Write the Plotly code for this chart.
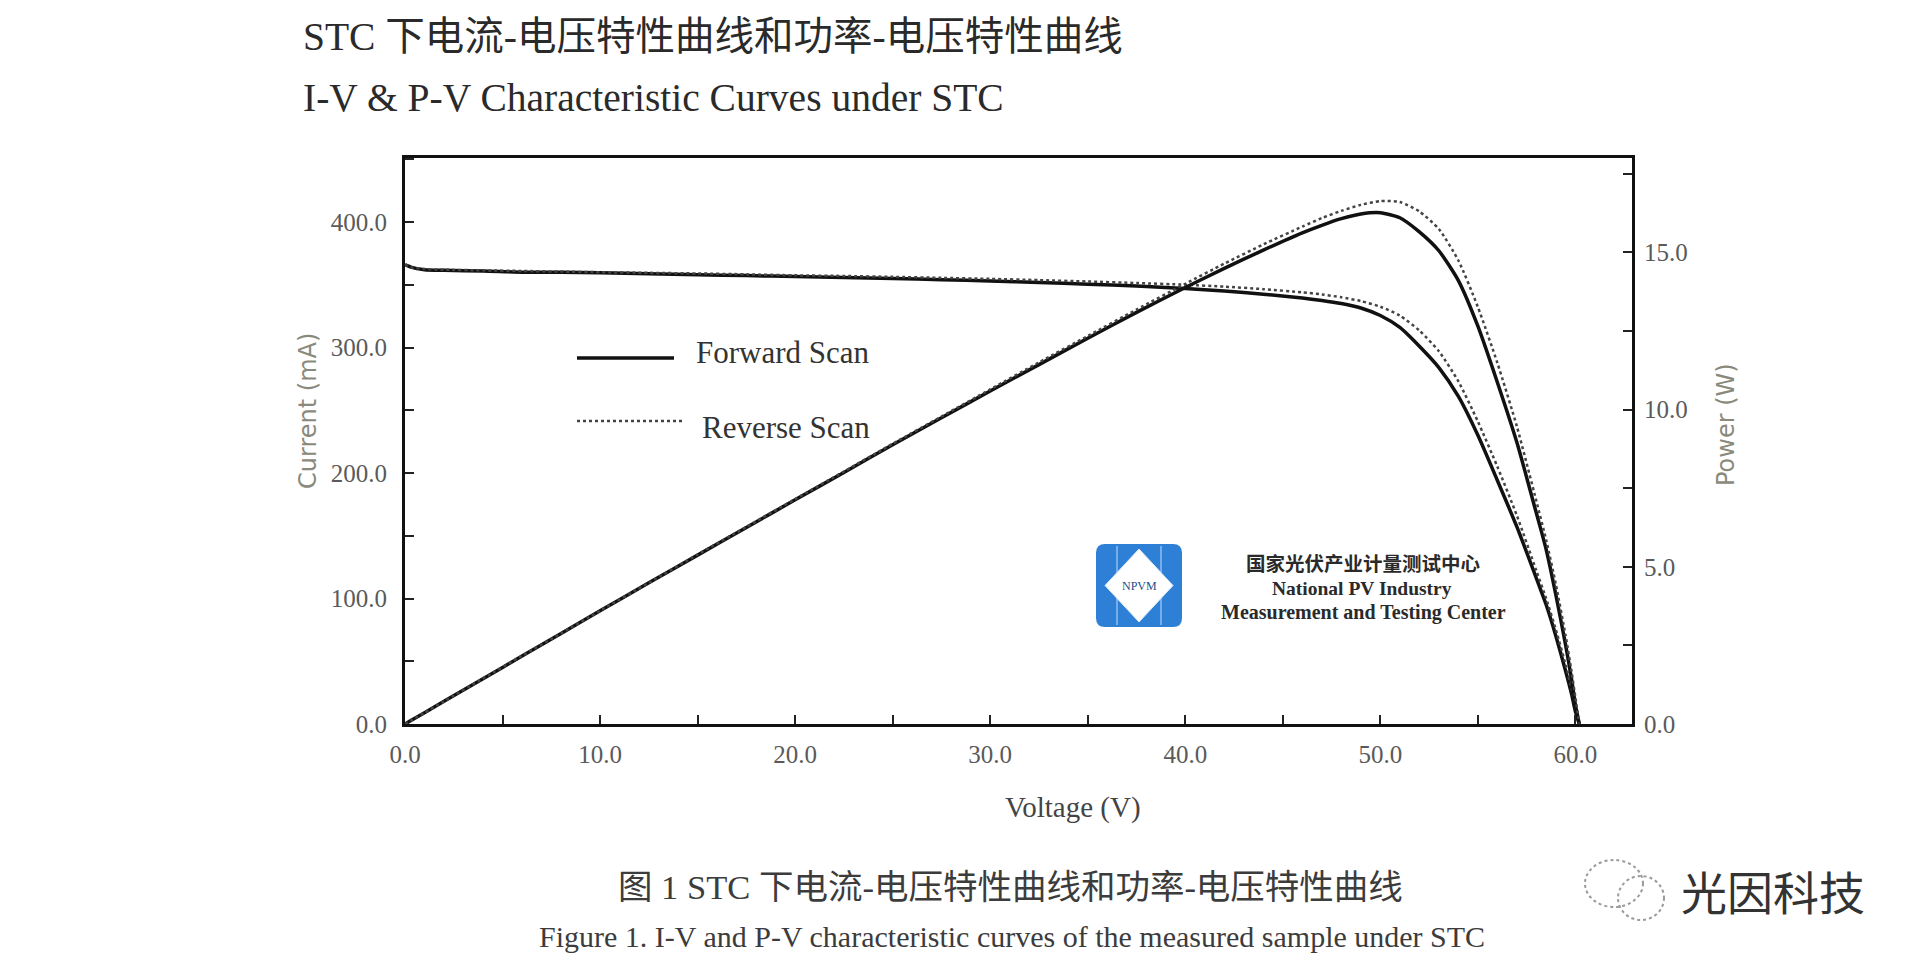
import plotly.graph_objects as go

# ---------------- data ----------------
voltage = [0, 0.3, 1, 2, 4, 6, 8, 10, 12.5, 15, 17.5, 20, 22.5, 25, 27.5, 30,
           32.5, 35, 37.5, 40, 42, 44, 46, 47, 48, 49, 50, 51, 52, 53, 54, 55,
           56, 57, 58, 58.5, 59, 59.5, 59.8, 60.0, 60.2]

current_forward = [366, 364, 362, 361.5, 361, 360, 360, 359.5, 358.8, 358, 357.3,
                   356.5, 355.8, 355, 354, 353, 351.8, 350.5, 349, 347, 345, 342.5,
                   339.5, 337.5, 335, 331.5, 325.5, 316, 301, 284, 261, 230, 194,
                   157, 116, 95, 70, 42, 24, 10, 0]

current_reverse = [366, 364, 362.5, 362, 361.5, 361, 360.5, 360, 359.5, 359, 358.3,
                   357.5, 357, 356.3, 355.5, 354.7, 353.7, 352.6, 351.4, 350, 348.5,
                   346.5, 344, 342.3, 340, 337, 332.5, 325.5, 313.5, 297, 273,
                   241, 205, 166, 122, 100, 75, 47, 28, 14, 0]

power_forward = [0, 0.11, 0.36, 0.72, 1.44, 2.16, 2.88, 3.6, 4.49, 5.37, 6.25, 7.13,
                 8.0, 8.88, 9.74, 10.59, 11.43, 12.27, 13.09, 13.88, 14.49, 15.07,
                 15.62, 15.86, 16.07, 16.22, 16.26, 16.1, 15.65, 15.05, 14.1, 12.65,
                 10.86, 8.95, 6.7, 5.55, 4.1, 2.5, 1.43, 0.6, 0]

power_reverse = [0, 0.11, 0.36, 0.72, 1.45, 2.17, 2.88, 3.6, 4.49, 5.39, 6.27, 7.15,
                 8.03, 8.91, 9.78, 10.64, 11.5, 12.34, 13.18, 14.0, 14.64, 15.25,
                 15.82, 16.09, 16.32, 16.51, 16.63, 16.6, 16.3, 15.74, 14.74, 13.26,
                 11.48, 9.46, 7.08, 5.85, 4.43, 2.8, 1.67, 0.84, 0]

x_ticks = [0, 10, 20, 30, 40, 50, 60]
current_ticks = [0, 100, 200, 300, 400]
power_ticks = [0, 5, 10, 15]

series_names = ["Forward Scan", "Reverse Scan"]

title_cn = "STC 下电流-电压特性曲线和功率-电压特性曲线"
title_en = "I-V & P-V Characteristic Curves under STC"
caption_cn = "图 1 STC 下电流-电压特性曲线和功率-电压特性曲线"
caption_en = "Figure 1. I-V and P-V characteristic curves of the measured sample under STC"
logo_lines = ["国家光伏产业计量测试中心", "National PV Industry", "Measurement and Testing Center"]
watermark = "光因科技"

# ---------------- layout helpers ----------------
# the page body has an 8px default margin, so the figure is sized to fit the window
OFF = 8
W, H = 1920 - OFF, 977 - OFF
L, R, T, B = 405 - OFF, 288, 158 - OFF, 253
PW, PH = W - L - R, H - T - B
PLOT_LEFT = OFF + L
PLOT_BOTTOM = OFF + H - B


def px(x):
    return (x - PLOT_LEFT) / PW


def py(y):
    return (PLOT_BOTTOM - y) / PH


SERIF = "Liberation Serif, 'Noto Sans CJK SC', serif"
SANS = "DejaVu Sans, sans-serif"
CJK = "'Noto Sans CJK SC', sans-serif"

fig = go.Figure()

fig.add_trace(go.Scatter(x=voltage, y=current_forward, mode="lines", yaxis="y",
                         line=dict(color="#111111", width=3.5, shape="spline", smoothing=0.6),
                         name=series_names[0], showlegend=False, hoverinfo="skip"))
fig.add_trace(go.Scatter(x=voltage, y=power_forward, mode="lines", yaxis="y2",
                         line=dict(color="#111111", width=3.5, shape="spline", smoothing=0.6),
                         name=series_names[0], showlegend=False, hoverinfo="skip"))
fig.add_trace(go.Scatter(x=voltage, y=current_reverse, mode="lines", yaxis="y",
                         line=dict(color="#444444", width=2.5, dash="dot", shape="spline", smoothing=0.6),
                         name=series_names[1], showlegend=False, hoverinfo="skip"))
fig.add_trace(go.Scatter(x=voltage, y=power_reverse, mode="lines", yaxis="y2",
                         line=dict(color="#444444", width=2.5, dash="dot", shape="spline", smoothing=0.6),
                         name=series_names[1], showlegend=False, hoverinfo="skip"))

tickfont = dict(family=SERIF, size=25, color="#5a5a5a")

axis_common = dict(
    showgrid=False, zeroline=False, showline=True, linecolor="#111111", linewidth=3,
    ticks="inside", ticklen=9, tickwidth=2, tickcolor="#222222",
    tickformat=".1f", tickfont=tickfont, automargin=False,
)

fig.update_layout(
    width=W, height=H,
    paper_bgcolor="white", plot_bgcolor="white",
    margin=dict(l=L, r=R, t=T, b=B),
    xaxis=dict(range=[0, 62.9], tickvals=x_ticks, mirror=True, ticklabelstandoff=6,
               minor=dict(dtick=5, tick0=0, ticks="inside", ticklen=9, tickwidth=2, tickcolor="#222222"),
               **axis_common),
    yaxis=dict(range=[0, 451], tickvals=current_ticks, mirror=True, ticklabelstandoff=10,
               minor=dict(dtick=50, tick0=0, ticks="inside", ticklen=9, tickwidth=2, tickcolor="#222222"),
               **axis_common),
    yaxis2=dict(range=[0, 18], tickvals=power_ticks, overlaying="y", side="right", ticklabelstandoff=4,
                minor=dict(dtick=2.5, tick0=0, ticks="inside", ticklen=9, tickwidth=2, tickcolor="#222222"),
                **axis_common),
    showlegend=False,
)

ann = []


def add_text(text, x, y, size, family=SERIF, color="#222222", xanchor="center", angle=0, bold=False):
    if bold:
        text = "<b>" + text + "</b>"
    ann.append(dict(text=text, x=px(x), y=py(y), xref="paper", yref="paper", showarrow=False,
                    xanchor=xanchor, yanchor="middle", textangle=angle,
                    font=dict(family=family, size=size, color=color)))


# titles
add_text(title_cn, 301, 37, 39.5, color="#2a2a2a", xanchor="left")
add_text(title_en, 301, 98, 39.5, color="#2a2a2a", xanchor="left")

# axis titles
add_text("Current (mA)", 308, 411, 24, family=SANS, color="#8a8a7c", angle=-90)
add_text("Power (W)", 1726, 425, 24, family=SANS, color="#8a8a7c", angle=-90)
add_text("Voltage (V)", 1073, 807, 29, color="#444444")

# legend text
add_text(series_names[0], 694, 352, 31, color="#333333", xanchor="left")
add_text(series_names[1], 700, 427, 31, color="#333333", xanchor="left")

# logo texts
add_text(logo_lines[0], 1363, 562, 19.5, family=CJK, color="#2a2a2a", bold=True)
add_text(logo_lines[1], 1362, 588, 19.5, color="#2a2a2a", bold=True)
add_text(logo_lines[2], 1363, 612, 20, color="#2a2a2a", bold=True)
add_text("NPVM", 1139, 586, 12, color="#1d4f8c")

# captions
add_text(caption_cn, 1010, 887, 34.5, color="#3c3c3c")
add_text(caption_en, 1012, 936, 30, color="#3c3c3c")

# watermark
add_text(watermark, 1773, 890, 46, family=CJK, color="#333333")

fig.update_layout(annotations=ann)

shapes = []
# legend samples
shapes.append(dict(type="line", xref="paper", yref="paper", x0=px(577), x1=px(674), y0=py(358), y1=py(358),
                   line=dict(color="#111111", width=3.5)))
shapes.append(dict(type="line", xref="paper", yref="paper", x0=px(577), x1=px(682), y0=py(421), y1=py(421),
                   line=dict(color="#444444", width=2.5, dash="dot")))

# logo: rounded blue square
lx0, lx1, ly0, ly1, rr = 1096, 1182, 544, 627, 9
rounded = (f"M {px(lx0 + rr)},{py(ly0)} L {px(lx1 - rr)},{py(ly0)} "
           f"Q {px(lx1)},{py(ly0)} {px(lx1)},{py(ly0 + rr)} L {px(lx1)},{py(ly1 - rr)} "
           f"Q {px(lx1)},{py(ly1)} {px(lx1 - rr)},{py(ly1)} L {px(lx0 + rr)},{py(ly1)} "
           f"Q {px(lx0)},{py(ly1)} {px(lx0)},{py(ly1 - rr)} L {px(lx0)},{py(ly0 + rr)} "
           f"Q {px(lx0)},{py(ly0)} {px(lx0 + rr)},{py(ly0)} Z")
shapes.append(dict(type="path", xref="paper", yref="paper", path=rounded,
                   fillcolor="#2e7fd6", line=dict(width=0)))
for bx in (1117, 1161):
    shapes.append(dict(type="line", xref="paper", yref="paper", x0=px(bx), x1=px(bx), y0=py(ly0 + 2), y1=py(ly1 - 2),
                       line=dict(color="#8fbdf0", width=1.5)))
cx, cy = (lx0 + lx1) / 2, (ly0 + ly1) / 2
diamond = (f"M {px(cx)},{py(ly0 + 5)} L {px(lx1 - 9)},{py(cy)} L {px(cx)},{py(ly1 - 5)} "
           f"L {px(lx0 + 9)},{py(cy)} Z")
shapes.append(dict(type="path", xref="paper", yref="paper", path=diamond,
                   fillcolor="white", line=dict(color="#d8e8f8", width=1)))

# wechat-like dotted icon
shapes.append(dict(type="circle", xref="paper", yref="paper", x0=px(1585), x1=px(1643), y0=py(907), y1=py(860),
                   line=dict(color="#9a9a9a", width=2, dash="dot")))
shapes.append(dict(type="circle", xref="paper", yref="paper", x0=px(1618), x1=px(1664), y0=py(920), y1=py(876),
                   line=dict(color="#9a9a9a", width=2, dash="dot")))

fig.update_layout(shapes=shapes)

fig.write_html("out.html")
